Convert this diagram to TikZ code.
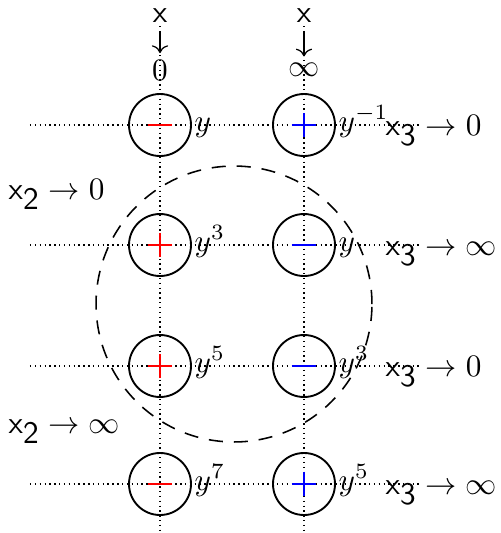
\documentclass[tikz,border=0pt]{standalone}
\usetikzlibrary{arrows.meta}
\begin{document}
\begin{tikzpicture}[x=0.32pt,y=-0.32pt,
  gridline/.style={line width=0.45pt,dash pattern=on 0.45pt off 1.1pt},
  ring/.style={circle,draw,line width=0.6pt,minimum size=19.84pt,inner sep=0pt},
  sign/.style={line width=0.7pt},
  bigring/.style={draw,line width=0.5pt,dash pattern=on 4.5pt off 3.5pt},
  lab/.style={anchor=base west,inner sep=0pt},
  toplab/.style={inner sep=0pt},
  downarrow/.style={line width=0.4pt,-{To},shorten >=2pt,shorten <=2.5pt}]
\useasboundingbox (0,0) rectangle (500,533);
% grid end points
\foreach \r/\yy in {1/125,2/245,3/366,4/484}{
  \coordinate (h\r a) at (30,\yy);
  \coordinate (h\r b) at (420,\yy);
}
\coordinate (vLa) at (160,26); \coordinate (vLb) at (160,533);
\coordinate (vRa) at (304,26); \coordinate (vRb) at (304,533);
\foreach \r in {1,2,3,4}{ \draw[gridline] (h\r a) -- (h\r b); }
\draw[gridline] (vLa) -- (vLb);
\draw[gridline] (vRa) -- (vRb);
% circles
\foreach \r/\yy in {1/125,2/245,3/366,4/484}{
  \node[ring] (L\r) at (160,\yy) {};
  \node[ring] (R\r) at (304,\yy) {};
}
% signs
\newcommand{\minussign}[2]{\draw[sign,#2] ([xshift=-3.7pt]#1.center) -- ([xshift=3.7pt]#1.center);}
\newcommand{\plussign}[2]{\draw[sign,#2] ([xshift=-3.7pt]#1.center) -- ([xshift=3.7pt]#1.center);
  \draw[sign,#2] ([yshift=-3.7pt]#1.center) -- ([yshift=3.7pt]#1.center);}
\minussign{L1}{red} \plussign{R1}{blue}
\plussign{L2}{red} \minussign{R2}{blue}
\plussign{L3}{red} \minussign{R3}{blue}
\minussign{L4}{red} \plussign{R4}{blue}
% y labels
\node[lab] (yl1) at (194,131) {$y$};
\node[lab] (yl2) at (194,251) {$y^3$};
\node[lab] (yl3) at (194,372) {$y^5$};
\node[lab] (yl4) at (194,490) {$y^7$};
\node[lab] (yr1) at (338,131) {$y^{-1}$};
\node[lab] (yr2) at (338,251) {$y$};
\node[lab] (yr3) at (338,372) {$y^3$};
\node[lab] (yr4) at (338,490) {$y^5$};
% x3 labels
\node[lab] (x31) at (385,135) {\textsf{x}$_{\mbox{\textsf{3}}}\to 0$};
\node[lab] (x32) at (385,255) {\textsf{x}$_{\mbox{\textsf{3}}}\to \infty$};
\node[lab] (x33) at (385,376) {\textsf{x}$_{\mbox{\textsf{3}}}\to 0$};
\node[lab] (x34) at (385,494) {\textsf{x}$_{\mbox{\textsf{3}}}\to \infty$};
% x2 labels
\node[lab] (x21) at (8,199) {\textsf{x}$_{\mbox{\textsf{2}}}\to 0$};
\node[lab] (x22) at (8,433) {\textsf{x}$_{\mbox{\textsf{2}}}\to \infty$};
% top labels
\node[toplab] (xa) at (160,16) {\textsf{x}};
\node[toplab] (xb) at (304,16) {\textsf{x}};
\node[toplab] (za) at (160,70) {$0$};
\node[toplab] (zb) at (304,70) {$\infty$};
\draw[downarrow] (xa.south) -- (za.north);
\draw[downarrow] (xb.south) -- (zb.north);
% dashed circle
\node[circle,bigring,minimum size=88.3pt,inner sep=0pt] (big) at (234,304) {};
\end{tikzpicture}
\end{document}
